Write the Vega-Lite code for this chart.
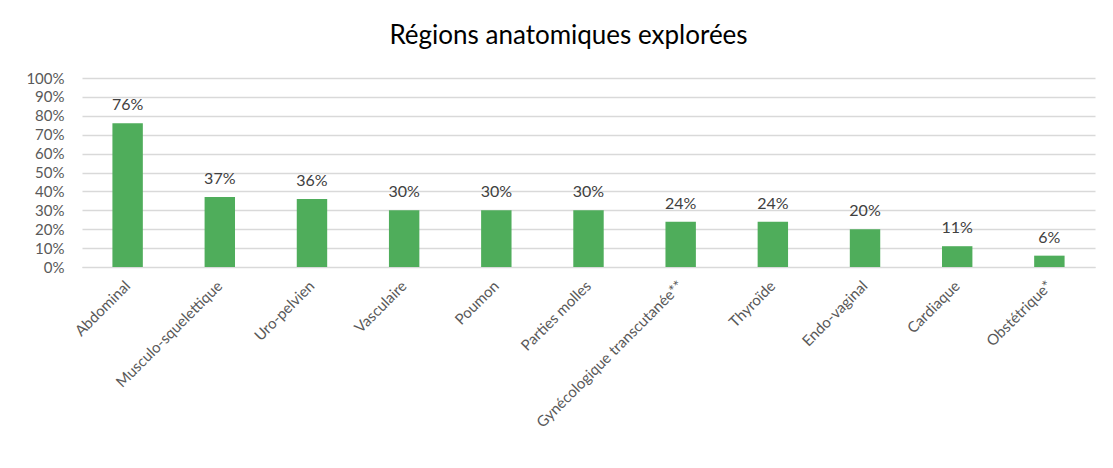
{
  "$schema": "https://vega.github.io/schema/vega-lite/v6.json",
  "width": 1013,
  "height": 189,
  "autosize": {"type": "none"},
  "padding": {"left": 82, "top": 78, "right": 18, "bottom": 201},
  "background": "white",
  "title": {
    "text": "Régions anatomiques explorées",
    "font": "Lato",
    "fontSize": 26,
    "fontWeight": "normal",
    "color": "#000000",
    "offset": 22,
    "dx": -20
  },
  "data": {
    "values": [
      {"region": "Abdominal", "pct": 0.76},
      {"region": "Musculo-squelettique", "pct": 0.37},
      {"region": "Uro-pelvien", "pct": 0.36},
      {"region": "Vasculaire", "pct": 0.30},
      {"region": "Poumon", "pct": 0.30},
      {"region": "Parties molles", "pct": 0.30},
      {"region": "Gynécologique transcutanée**", "pct": 0.24},
      {"region": "Thyroïde", "pct": 0.24},
      {"region": "Endo-vaginal", "pct": 0.20},
      {"region": "Cardiaque", "pct": 0.11},
      {"region": "Obstétrique*", "pct": 0.06}
    ]
  },
  "config": {
    "view": {"stroke": null},
    "font": "Lato"
  },
  "encoding": {
    "x": {
      "field": "region",
      "type": "nominal",
      "sort": null,
      "scale": {"paddingInner": 0.67, "paddingOuter": 0.33},
      "axis": {
        "title": null,
        "labelAngle": -45,
        "labelAlign": "right",
        "labelBaseline": "middle",
        "labelFontSize": 15,
        "labelColor": "#595959",
        "labelFont": "Lato",
        "labelPadding": 16,
        "ticks": false,
        "domainColor": "#d9d9d9",
        "labelLimit": 400
      }
    },
    "y": {
      "field": "pct",
      "type": "quantitative",
      "scale": {"domain": [0, 1]},
      "axis": {
        "title": null,
        "format": ".0%",
        "values": [0, 0.1, 0.2, 0.3, 0.4, 0.5, 0.6, 0.7, 0.8, 0.9, 1],
        "labelFontSize": 15,
        "labelColor": "#595959",
        "labelFont": "Lato",
        "labelPadding": 18,
        "ticks": false,
        "domain": false,
        "gridColor": "#d9d9d9",
        "gridWidth": 1.3
      }
    }
  },
  "layer": [
    {"mark": {"type": "bar", "color": "#4FAD5B"}},
    {
      "mark": {"type": "text", "dy": -10, "fontSize": 16, "color": "#404040", "font": "Lato", "baseline": "bottom"},
      "encoding": {"text": {"field": "pct", "type": "quantitative", "format": ".0%"}}
    }
  ]
}
